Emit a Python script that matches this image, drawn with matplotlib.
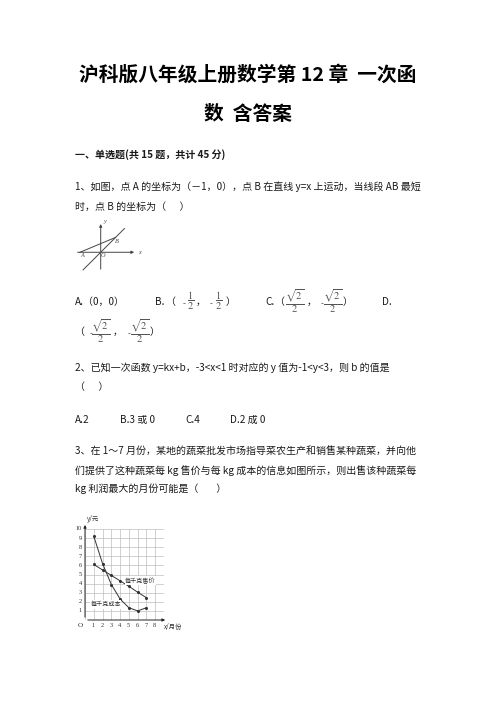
import matplotlib
matplotlib.use('Agg')
import matplotlib.pyplot as plt

plt.rcParams['font.family'] = ['Noto Sans CJK SC', 'DejaVu Sans']
plt.rcParams['mathtext.fontset'] = 'stix'

## 数据
# 第1题示意图
line_x = [-0.85, 1.15]          # 直线 y=x 的两端
point_A = (-1, 0)
point_B = (0.72, 0.72)
# 第3题 月份 与 每千克售价/成本
months = [1, 2, 3, 4, 5, 6, 7]
price = [6.1, 5.5, 4.9, 4.3, 3.7, 3.05, 2.45]
cost = [9.2, 6.2, 3.9, 2.3, 1.35, 1.0, 1.35]
x_ticks = [1, 2, 3, 4, 5, 6, 7, 8]
y_ticks = [1, 2, 3, 4, 5, 6, 7, 8, 9, 10]

W, H = 496, 702
fig = plt.figure(figsize=(W / 100, H / 100), dpi=100)
fig.patch.set_facecolor('white')
BODY = 7.2
TXT = '#1a1a1a'


def put(x, y, s, size=BODY, **kw):
    kw.setdefault('color', TXT)
    kw.setdefault('va', 'center')
    return fig.text(x / W, 1 - y / H, s, fontsize=size, **kw)


def frac(x, y, s):
    # 分数，居中放置
    put(x, y, s, size=7.4, ha='center', color='#555555')


## 标题
put(248, 75, '沪科版八年级上册数学第 12 章  一次函', size=14.2, ha='center',
    fontweight='bold', color='black')
put(248, 115, '数  含答案', size=14.2, ha='center', fontweight='bold', color='black')
put(75, 155, '一、单选题(共 15 题，共计 45 分)', fontweight='bold')

## 第1题
put(75, 187, '1、如图，点 A 的坐标为（－1，0），点 B 在直线 y=x 上运动，当线段 AB 最短')
put(75, 207, '时，点 B 的坐标为（      ）')

ax1 = fig.add_axes([69.65 / W, 1 - 277.1 / H, (142.1 - 69.65) / W, (277.1 - 217.1) / H])
ax1.set_xlim(-1.5, 2.0)
ax1.set_ylim(-1.2, 1.7)
ax1.axis('off')
lc = '#444444'
ax1.annotate('', xy=(1.75, 0), xytext=(-1.25, 0),
             arrowprops=dict(arrowstyle='-|>', color=lc, lw=0.7, mutation_scale=4))
ax1.annotate('', xy=(0, 1.5), xytext=(0, -0.95),
             arrowprops=dict(arrowstyle='-|>', color=lc, lw=0.7, mutation_scale=4))
ax1.plot(line_x, line_x, color=lc, lw=0.7)
ax1.plot([point_A[0], point_B[0]], [point_A[1], point_B[1]], color=lc, lw=0.7)
fs1 = dict(fontsize=4.5, color='#444444', family='Liberation Serif', style='italic',
           ha='center', va='center')
ax1.text(point_A[0] + 0.1, -0.17, 'A', **fs1)
ax1.text(point_B[0] + 0.08, point_B[1] - 0.2, 'B', **fs1)
ax1.text(0.13, -0.18, 'O', **fs1)
ax1.text(1.85, -0.02, 'x', **fs1)
ax1.text(0.18, 1.5, 'y', **fs1)

## 选项
put(75, 302, 'A.（0，0）')
put(155, 302, 'B.')
put(170, 302, '（', ha='center')
put(184, 304, '-', size=6, ha='center', color='#555555')
frac(191, 301, r'$\dfrac{1}{2}$')
put(201, 302, '，', ha='center')
put(211, 304, '-', size=6, ha='center', color='#555555')
frac(219, 301, r'$\dfrac{1}{2}$')
put(231, 302, '）', ha='center')
put(265, 302, 'C.')
put(279, 302, '（', ha='center')
frac(295, 301, r'$\dfrac{\sqrt{2}}{2}$')
put(312, 302, '，', ha='center')
put(322, 304, '-', size=6, ha='center', color='#555555')
frac(333, 301, r'$\dfrac{\sqrt{2}}{2}$')
put(348, 302, '）', ha='center')
put(382, 302, 'D.')
put(79, 332, '（', ha='center')
put(91, 334, '-', size=6, ha='center', color='#555555')
frac(101, 331, r'$\dfrac{\sqrt{2}}{2}$')
put(118, 332, '，', ha='center')
put(129, 334, '-', size=6, ha='center', color='#555555')
frac(140, 331, r'$\dfrac{\sqrt{2}}{2}$')
put(155, 332, '）', ha='center')

## 第2题
put(75, 368, '2、已知一次函数 y=kx+b，-3<x<1 时对应的 y 值为-1<y<3，则 b 的值是')
put(75, 387, '（      ）')
put(75, 420, 'A.2')
put(120, 420, 'B.3 或 0')
put(185, 420, 'C.4')
put(230, 420, 'D.2 成 0')

## 第3题
put(75, 452, '3、在 1～7 月份，某地的蔬菜批发市场指导菜农生产和销售某种蔬菜，并向他')
put(75, 471, '们提供了这种蔬菜每 kg 售价与每 kg 成本的信息如图所示，则出售该种蔬菜每')
put(75, 489, 'kg 利润最大的月份可能是（        ）')

ax = fig.add_axes([85 / W, 1 - 620 / H, 79 / W, 91 / H])
ax.set_xlim(0, 9)
ax.set_ylim(0, 10)
for s in ax.spines.values():
    s.set_visible(False)
ax.set_xticks(range(0, 10))
ax.set_yticks(range(0, 11))
ax.grid(True, color='#bdbdbd', lw=0.5)
ax.tick_params(length=0, labelbottom=False, labelleft=False)
ax.annotate('', xy=(9.45, 0), xytext=(0, 0), annotation_clip=False,
            arrowprops=dict(arrowstyle='-|>', color='#222222', lw=0.7, mutation_scale=4))
ax.annotate('', xy=(0, 10.75), xytext=(0, 0), annotation_clip=False,
            arrowprops=dict(arrowstyle='-|>', color='#222222', lw=0.7, mutation_scale=4))
tf = dict(fontsize=4.6, color='#333333', family='Liberation Serif', clip_on=False)
for t in x_ticks:
    ax.text(t - 0.05, -0.3, str(t), ha='center', va='top', **tf)
for t in y_ticks:
    ax.text(-0.35, t, str(t), ha='right', va='center', **tf)
ax.text(-0.25, -0.3, 'O', ha='right', va='top', fontsize=5.2, color='#333333',
        family='Liberation Serif', clip_on=False)
ax.text(0.25, 11.1, 'y/元', ha='left', va='center', fontsize=4.6, color='#333333',
        clip_on=False)
ax.text(9.0, -0.35, 'x/月份', ha='left', va='top', fontsize=4.6, color='#333333',
        clip_on=False)

ax.plot(months, price, color='#333333', lw=0.7, marker='o', ms=1.2, clip_on=False)
ax.plot(months, cost, color='#333333', lw=0.7, marker='o', ms=1.2, clip_on=False)
ax.text(6.3, 4.3, '每千克售价', ha='center', va='center', fontsize=4.4, color='#333333',
        bbox=dict(facecolor='white', edgecolor='none', pad=0.3))
ax.text(2.35, 1.75, '每千克成本', ha='center', va='center', fontsize=4.4, color='#333333',
        bbox=dict(facecolor='white', edgecolor='none', pad=0.3))

fig.savefig('out.png', dpi=100, facecolor='white')
